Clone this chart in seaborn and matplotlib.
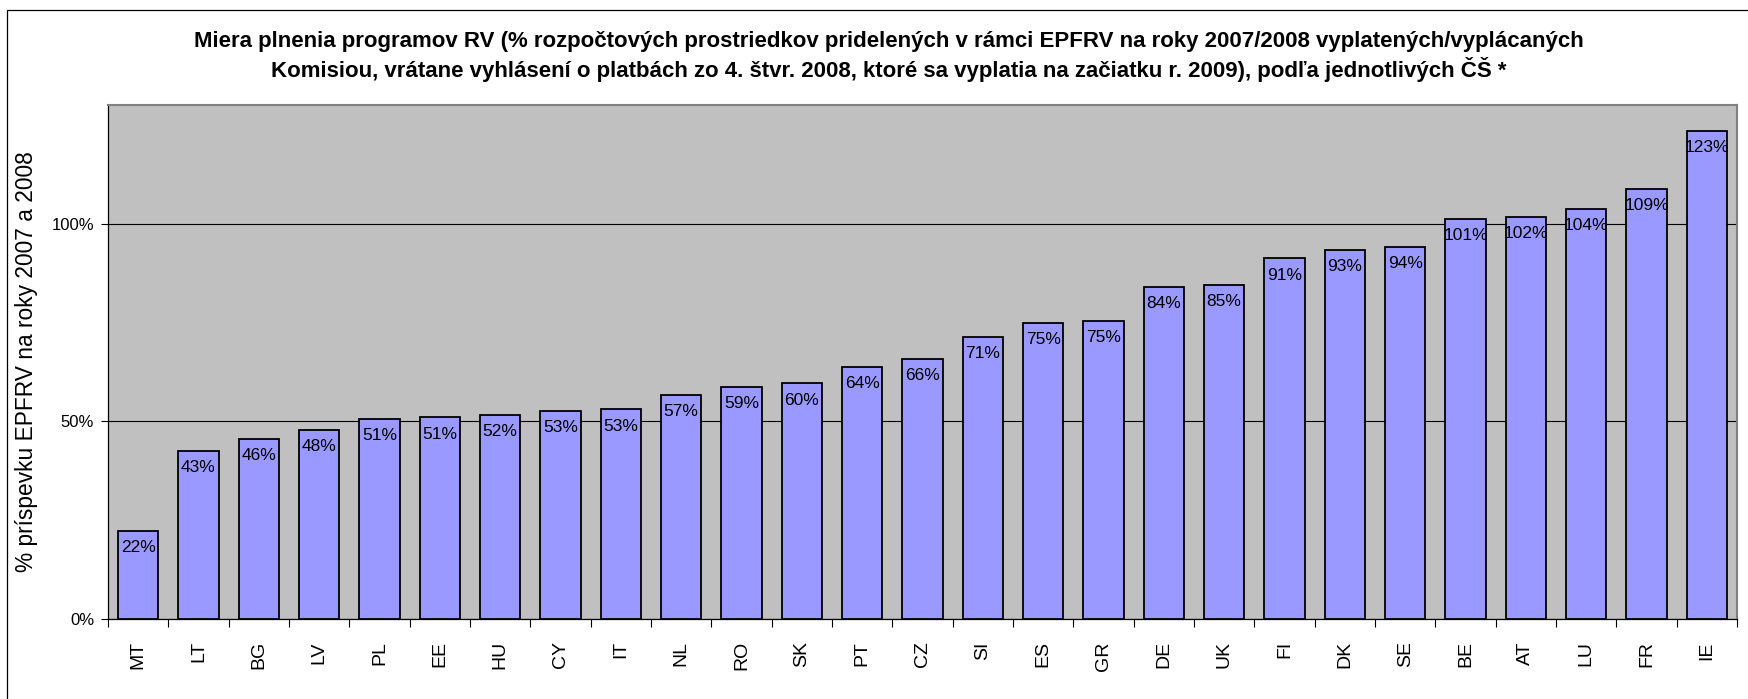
import matplotlib
matplotlib.use("Agg")
import matplotlib.pyplot as plt
import matplotlib.patches as mpatches
from matplotlib.ticker import FixedLocator, FuncFormatter
import seaborn as sns
import pandas as pd

countries = ["MT", "LT", "BG", "LV", "PL", "EE", "HU", "CY", "IT", "NL", "RO", "SK", "PT", "CZ",
             "SI", "ES", "GR", "DE", "UK", "FI", "DK", "SE", "BE", "AT", "LU", "FR", "IE"]
values = [22.3, 42.6, 45.6, 47.8, 50.6, 51.0, 51.6, 52.7, 53.0, 56.6, 58.6, 59.6, 63.7, 65.7,
          71.3, 74.9, 75.3, 84.0, 84.6, 91.2, 93.3, 94.2, 101.1, 101.7, 103.8, 108.8, 123.4]
labels = [f"{int(v + 0.5):d}%" for v in values]
yticks = [0, 50, 100]

title = ("Miera plnenia programov RV (% rozpočtových prostriedkov pridelených v rámci EPFRV na roky 2007/2008 vyplatených/vyplácaných\n"
         "Komisiou, vrátane vyhlásení o platbách zo 4. štvr. 2008, ktoré sa vyplatia na začiatku r. 2009), podľa jednotlivých ČŠ *")
ylabel = "% príspevku EPFRV na roky 2007 a 2008"

df = pd.DataFrame({"country": countries, "value": values})

sns.set_theme(style="white")
plt.rcParams["font.family"] = ["Liberation Sans", "DejaVu Sans"]
plt.rcParams.update({"text.color": "black", "axes.labelcolor": "black",
                     "xtick.color": "black", "ytick.color": "black"})

W, H = 1749, 699
fig = plt.figure(figsize=(W / 100, H / 100), dpi=100)
fig.patch.set_facecolor("white")

left, right, top, bottom = 108, 1737, 105, 619
ax = fig.add_axes([left / W, 1 - bottom / H, (right - left) / W, (bottom - top) / H])
ax.set_facecolor("#C0C0C0")

sns.barplot(data=df, x="country", y="value", color="#9999FF", saturation=1,
            edgecolor="black", linewidth=1.3, width=0.667, ax=ax, zorder=3)

for i, (v, lab) in enumerate(zip(values, labels)):
    ax.annotate(lab, (i, v), xytext=(0, -12), textcoords="offset points",
                ha="center", va="center", fontsize=12.5, color="black", zorder=4)

ax.set_xlim(-0.5, len(countries) - 0.5)
ax.set_ylim(0, 130)
ax.yaxis.set_major_locator(FixedLocator(yticks))
ax.yaxis.set_major_formatter(FuncFormatter(lambda v, p: f"{int(v)}%"))
ax.grid(axis="y", color="black", linewidth=0.8, zorder=1)
ax.grid(axis="x", visible=False)
ax.set_axisbelow(True)

ax.tick_params(axis="y", which="major", direction="out", length=5, width=0.8,
               color="black", labelcolor="black", labelsize=12, pad=5, left=True)
ax.set_xticks(range(len(countries)))
ax.set_xticklabels(countries, rotation=90, fontsize=14, color="black")
ax.set_xticks([i - 0.5 for i in range(len(countries) + 1)], minor=True)
ax.tick_params(axis="x", which="major", length=0, pad=16)
ax.tick_params(axis="x", which="minor", direction="out", length=6, width=0.8,
               color="black", bottom=True)

for s in ["left", "bottom"]:
    ax.spines[s].set_color("black")
    ax.spines[s].set_linewidth(0.9)
for s in ["top", "right"]:
    ax.spines[s].set_color("#808080")
    ax.spines[s].set_linewidth(1.5)

ax.set_xlabel("")
ax.set_ylabel(ylabel, fontsize=16.4, color="black")
ax.yaxis.set_label_coords((38 - left) / (right - left), 0.5)

fig.text(889 / W, 1 - 56 / H, title, ha="center", va="center", fontsize=16,
         fontweight="bold", linespacing=1.25, color="black")

border = mpatches.Rectangle((7 / W, -0.1), 1.2, 1 - 10 / H + 0.1, transform=fig.transFigure,
                            fill=False, edgecolor="black", linewidth=0.9)
fig.patches.append(border)

fig.savefig("out.png", dpi=100, facecolor="white")
